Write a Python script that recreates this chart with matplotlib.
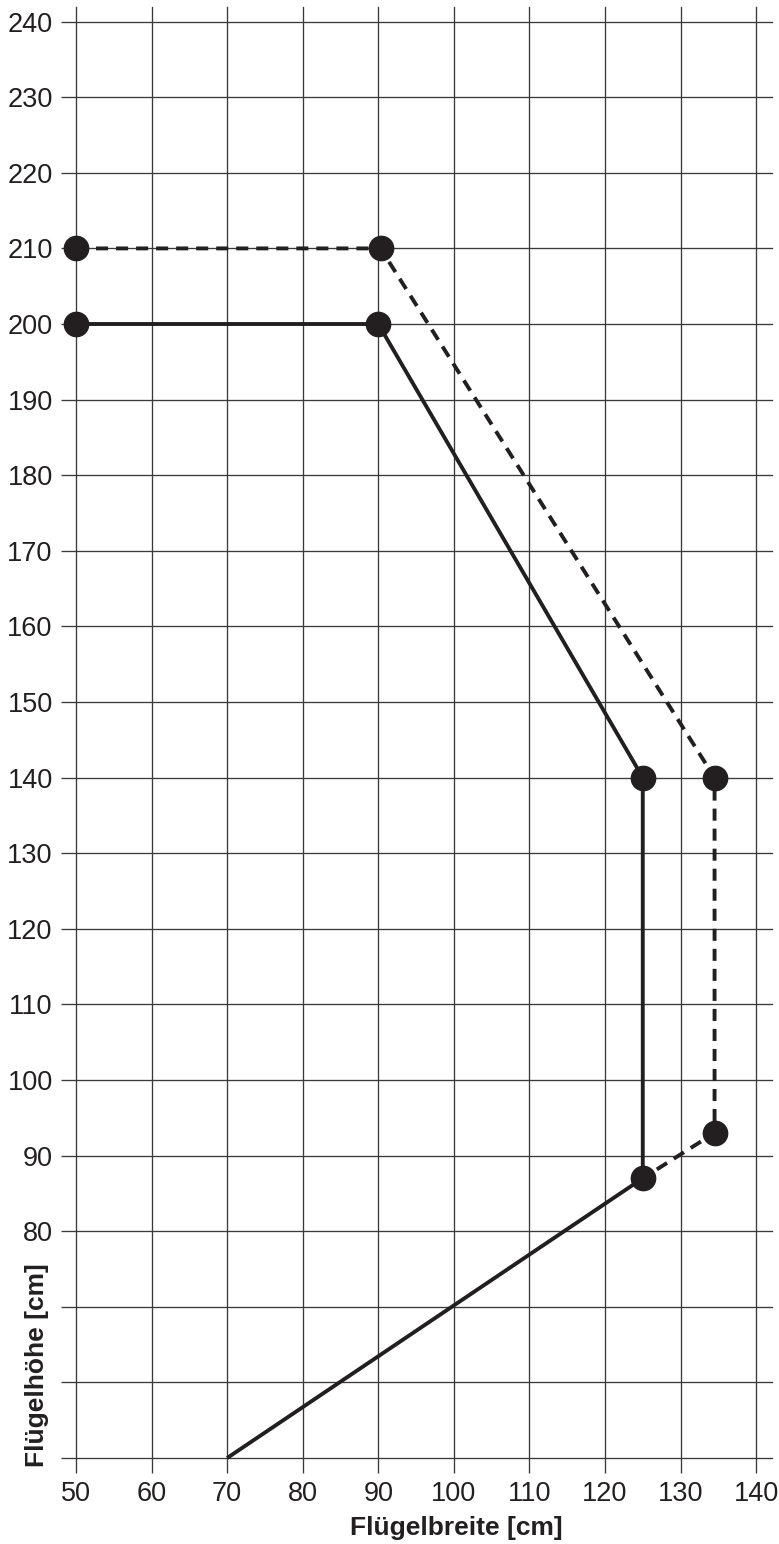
import matplotlib
matplotlib.use("Agg")
import matplotlib.pyplot as plt

# Data
solid_x = [50, 90, 125, 125, 70]
solid_y = [200, 200, 140, 87, 50]
dashed_x = [50, 90.3, 134.5, 134.5, 125]
dashed_y = [210, 210, 140, 93, 87]
x_ticks = [50, 60, 70, 80, 90, 100, 110, 120, 130, 140]
y_ticks = list(range(50, 250, 10))
y_labels = ["" if v < 80 else str(v) for v in y_ticks]

plt.rcParams['font.family'] = ['Liberation Sans', 'DejaVu Sans']

W, H, DPI = 779, 1544, 100
fig = plt.figure(figsize=(W / DPI, H / DPI), dpi=DPI)
ax = fig.add_axes([76 / W, (H - 1458) / H, 696 / W, 1451.5 / H])

ink = '#231f20'
gridc = '#3a3a3a'

ax.set_xlim(50, 142.1)
ax.set_ylim(50, 242)
for s in ax.spines.values():
    s.set_visible(False)

ax.set_xticks(x_ticks)
ax.set_yticks(y_ticks)
ax.set_yticklabels(y_labels)
ax.tick_params(axis='both', direction='out', length=10.8, width=0.95, color=gridc,
               labelsize=19.5, labelcolor=ink, pad=6.0)
ax.grid(True, color=gridc, linewidth=0.95)
for gl in ax.get_xgridlines() + ax.get_ygridlines():
    gl.set_clip_on(False)
ax.set_axisbelow(True)

lw = 2.8
ax.plot(solid_x, solid_y, color=ink, lw=lw, solid_capstyle='butt', zorder=3, clip_on=False)
ax.plot(dashed_x, dashed_y, color=ink, lw=lw, dashes=(3.1, 2.05), zorder=3, clip_on=False)
ax.plot(solid_x[:4], solid_y[:4], 'o', color=ink, ms=17.5, zorder=4, clip_on=False)
ax.plot(dashed_x[:4], dashed_y[:4], 'o', color=ink, ms=17.5, zorder=4, clip_on=False)

fig.text(456 / W, 1 - 1528 / H, 'Flügelbreite [cm]', ha='center', va='center',
         fontsize=19, fontweight='bold', color=ink)
fig.text(37.5 / W, 1 - 1365 / H, 'Flügelhöhe [cm]', ha='center', va='center',
         rotation=90, fontsize=19, fontweight='bold', color=ink)

fig.savefig('out.png', dpi=DPI, facecolor='white')
